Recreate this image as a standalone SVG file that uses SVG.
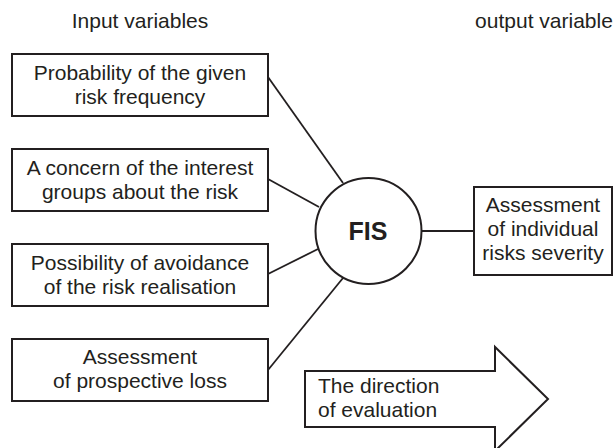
<svg xmlns="http://www.w3.org/2000/svg" width="614" height="448" viewBox="0 0 614 448">
  <style>
    .box { fill: #fff; stroke: #231f20; stroke-width: 2; }
    .link { fill: none; stroke: #231f20; stroke-width: 1.8; }
    text { font-family: "Liberation Sans", Arial, sans-serif; font-size: 21px; fill: #231f20; }
    .c { text-anchor: middle; }
    .fis { font-weight: bold; font-size: 25px; }
  </style>
  <rect width="614" height="448" fill="#fff"/>

  <!-- column headings -->
  <text class="c" x="140" y="28">Input variables</text>
  <text class="c" x="544" y="28">output variable</text>

  <!-- connectors from inputs to FIS and from FIS to the output -->
  <g id="connectors">
    <line class="link" x1="268" y1="77" x2="343" y2="183"/>
    <line class="link" x1="268" y1="179" x2="319" y2="207"/>
    <line class="link" x1="268" y1="274" x2="318" y2="249"/>
    <line class="link" x1="268" y1="370" x2="343" y2="278"/>
    <line class="link" x1="421.5" y1="231" x2="474" y2="231"/>
  </g>

  <g id="input-probability">
    <rect class="box" x="12" y="54" width="256" height="62"/>
    <text class="c" x="140" y="80">Probability of the given</text>
    <text class="c" x="140" y="104">risk frequency</text>
  </g>

  <g id="input-concern">
    <rect class="box" x="12" y="149" width="256" height="62"/>
    <text class="c" x="140" y="175">A concern of the interest</text>
    <text class="c" x="140" y="199">groups about the risk</text>
  </g>

  <g id="input-avoidance">
    <rect class="box" x="12" y="244" width="256" height="62"/>
    <text class="c" x="140" y="270">Possibility of avoidance</text>
    <text class="c" x="140" y="294">of the risk realisation</text>
  </g>

  <g id="input-loss">
    <rect class="box" x="12" y="339" width="256" height="62"/>
    <text class="c" x="140" y="364">Assessment</text>
    <text class="c" x="140" y="388">of prospective loss</text>
  </g>

  <g id="fis">
    <circle class="box" cx="368.5" cy="231" r="53"/>
    <text class="c fis" x="368" y="240">FIS</text>
  </g>

  <g id="output-severity">
    <rect class="box" x="474" y="187" width="138" height="88"/>
    <text class="c" x="543" y="212">Assessment</text>
    <text class="c" x="543" y="236">of individual</text>
    <text class="c" x="543" y="260">risks severity</text>
  </g>

  <g id="direction-arrow">
    <polygon class="box" points="305,371 495,371 495,347 548,399 495,451 495,427 305,427"/>
    <text x="318" y="393">The direction</text>
    <text x="318" y="417">of evaluation</text>
  </g>
</svg>
